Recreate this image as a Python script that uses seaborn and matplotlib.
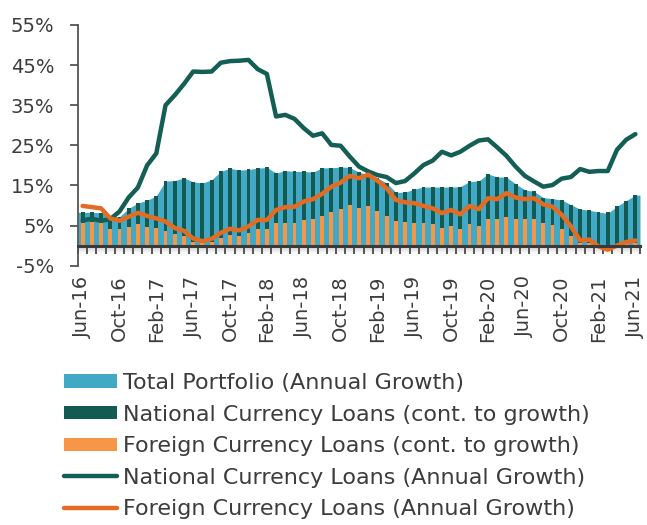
import numpy as np
import pandas as pd
import matplotlib
matplotlib.use("Agg")
import matplotlib.pyplot as plt
import seaborn as sns
from matplotlib.patches import Patch
from matplotlib.lines import Line2D

# Monthly loan-portfolio growth, Jun-2016 .. Jun-2021 (percent)
months = pd.date_range("2016-06-01", "2021-06-01", freq="MS")

total_growth = [
    8.3, 8.3, 8.2, 7.3, 7.2, 9.3, 10.6, 11.3, 12.4, 16.1,
    16.2, 16.9, 15.9, 15.6, 16.4, 18.5, 19.3, 18.8, 19.0, 19.3,
    19.5, 18.1, 18.7, 18.5, 18.5, 18.3, 19.4, 19.4, 19.6, 19.5,
    18.3, 17.7, 16.9, 15.6, 13.3, 13.3, 14.1, 14.6, 14.6, 14.6,
    14.6, 14.7, 16.0, 16.1, 17.9, 17.1, 17.1, 15.4, 13.9, 13.5,
    12.0, 11.7, 11.4, 10.2, 9.1, 8.8, 8.4, 8.0, 9.8, 11.2,
    12.6,
]
fc_contrib = [
    5.6, 6.0, 5.6, 4.2, 4.1, 4.7, 5.3, 4.7, 4.3, 3.7,
    2.8, 2.4, 1.0, 0.6, 0.9, 1.9, 2.7, 2.5, 3.1, 4.1,
    4.1, 5.7, 5.7, 5.7, 6.4, 6.7, 7.4, 8.5, 9.1, 10.1,
    9.5, 9.9, 8.7, 7.5, 6.2, 6.0, 5.7, 5.6, 5.4, 4.3,
    5.0, 4.2, 5.4, 4.9, 6.7, 6.6, 7.2, 6.7, 6.6, 6.7,
    5.7, 5.2, 4.1, 2.4, 0.6, 0.6, -0.1, -0.5, 0.0, 0.4,
    0.6,
]
nc_growth = [
    6.3, 6.7, 6.2, 6.6, 8.5, 12.0, 14.5, 20.0, 23.0, 35.0,
    37.5, 40.3, 43.4, 43.3, 43.4, 45.6, 46.0, 46.1, 46.3, 44.0,
    42.8, 32.2, 32.6, 31.6, 29.3, 27.4, 28.0, 25.1, 24.9, 22.2,
    19.7, 18.5, 17.6, 17.1, 15.6, 16.1, 18.0, 20.1, 21.2, 23.4,
    22.5, 23.4, 24.9, 26.2, 26.5, 24.5, 22.4, 19.7, 17.4, 16.0,
    14.7, 15.1, 16.7, 17.1, 19.1, 18.4, 18.6, 18.6, 23.9, 26.4,
    27.8,
]
fc_growth = [
    9.9, 9.6, 9.3, 6.8, 6.2, 7.2, 8.2, 7.4, 6.8, 6.0,
    4.4, 3.7, 1.8, 1.1, 1.7, 3.2, 4.2, 3.8, 4.8, 6.4,
    6.4, 8.9, 9.6, 9.7, 11.0, 11.6, 12.9, 14.7, 15.7, 17.4,
    16.8, 17.7, 16.2, 14.3, 11.4, 10.8, 10.6, 9.9, 9.3, 8.1,
    8.9, 7.8, 9.9, 9.1, 11.8, 11.6, 13.1, 12.0, 11.6, 11.8,
    10.3, 9.7, 7.7, 4.8, 1.3, 1.5, -0.2, -1.0, 0.0, 0.9,
    1.3,
]
tick_labels = ["Jun-16", "Oct-16", "Feb-17", "Jun-17", "Oct-17", "Feb-18",
               "Jun-18", "Oct-18", "Feb-19", "Jun-19", "Oct-19", "Feb-20",
               "Jun-20", "Oct-20", "Feb-21", "Jun-21"]
y_ticks = [-5, 5, 15, 25, 35, 45, 55]

df = pd.DataFrame({
    "month": months,
    "total": total_growth,
    "fc_contrib": fc_contrib,
    "nc_growth": nc_growth,
    "fc_growth": fc_growth,
})
df["pos"] = np.arange(len(df))
df["nc_contrib"] = df["total"] - df["fc_contrib"]
df["nc_base"] = df["fc_contrib"].clip(lower=0)

C_TOTAL = "#41A9C6"
C_NC_BAR = "#135A53"
C_FC_BAR = "#F79646"
C_NC_LINE = "#135E55"
C_FC_LINE = "#E46C22"
C_TEXT = "#3C3C3C"
C_AXIS = "#555555"

sns.set_theme(style="white")
plt.rcParams["font.family"] = ["DejaVu Sans"]

fig = plt.figure(figsize=(6.47, 5.25), dpi=100)
ax = fig.add_axes([78 / 647, 1 - 265.7 / 525, (640 - 78) / 647, (265.7 - 25) / 525])

# total portfolio as a filled area spanning each month's slot
x_area = np.r_[df["pos"].iloc[0] - 0.5, df["pos"], df["pos"].iloc[-1] + 0.5]
y_area = np.r_[df["total"].iloc[0], df["total"], df["total"].iloc[-1]]
ax.fill_between(x_area, 0, y_area, color=C_TOTAL, linewidth=0, zorder=1)

# stacked contributions
sns.barplot(data=df, x="pos", y="fc_contrib", native_scale=True, width=0.42,
            color=C_FC_BAR, saturation=1, errorbar=None, ax=ax, zorder=2,
            linewidth=0)
sns.barplot(data=df, x="pos", y="nc_contrib", bottom=df["nc_base"].to_numpy(),
            native_scale=True, width=0.42, color=C_NC_BAR, saturation=1,
            errorbar=None, ax=ax, zorder=2, linewidth=0)

# annual growth lines
sns.lineplot(data=df, x="pos", y="nc_growth", color=C_NC_LINE, linewidth=3.2,
             ax=ax, zorder=4, solid_capstyle="round")
sns.lineplot(data=df, x="pos", y="fc_growth", color=C_FC_LINE, linewidth=3.2,
             ax=ax, zorder=4, solid_capstyle="round")

ax.set_xlabel("")
ax.set_ylabel("")

# y axis
ax.set_yticks(y_ticks)
ax.set_yticklabels([f"{v}%" for v in y_ticks])
ax.tick_params(axis="y", direction="out", length=6, width=1.3, color=C_AXIS,
               labelsize=14, labelcolor=C_TEXT, pad=11, left=True)
ax.spines["left"].set_color(C_AXIS)
ax.spines["left"].set_linewidth(1.3)
ax.spines["top"].set_visible(False)
ax.spines["right"].set_visible(False)

# horizontal axis line at zero with a tick between every month
ax.spines["bottom"].set_position(("data", 0))
ax.spines["bottom"].set_color("#3A3A3A")
ax.spines["bottom"].set_linewidth(2.2)
ax.spines["bottom"].set_zorder(5)
ax.set_xticks(np.arange(-0.5, len(df), 1.0))
ax.set_xticklabels([])
ax.tick_params(axis="x", direction="out", length=5.5, width=1.2,
               color="#3A3A3A", bottom=True)

# soft shadow under the zero line
shade = np.linspace(0.78, 1.0, 32).reshape(-1, 1)
ax.imshow(shade, cmap="gray", vmin=0, vmax=1, aspect="auto",
          extent=(-0.5, len(df) - 0.5, -2.2, 0), zorder=0.5,
          interpolation="bilinear")
ax.set_xlim(-0.5, len(df) - 0.5)
ax.set_ylim(y_ticks[0], y_ticks[-1])

# month labels sit below the plotting area
sec = ax.secondary_xaxis("bottom")
sec.set_xticks(df["pos"].iloc[::4].to_numpy())
sec.set_xticklabels(tick_labels, rotation=90, fontsize=14, color=C_TEXT)
sec.tick_params(axis="x", length=0, pad=7)
sec.spines["bottom"].set_visible(False)

handles = [
    Patch(facecolor=C_TOTAL, edgecolor="none"),
    Patch(facecolor=C_NC_BAR, edgecolor="none"),
    Patch(facecolor=C_FC_BAR, edgecolor="none"),
    Line2D([], [], color=C_NC_LINE, linewidth=3.2, solid_capstyle="round"),
    Line2D([], [], color=C_FC_LINE, linewidth=3.2, solid_capstyle="round"),
]
labels = [
    "Total Portfolio (Annual Growth)",
    "National Currency Loans (cont. to growth)",
    "Foreign Currency Loans (cont. to growth)",
    "National Currency Loans (Annual Growth)",
    "Foreign Currency Loans (Annual Growth)",
]
fig.legend(handles, labels, loc="upper left", bbox_to_anchor=(64 / 647, 1 - 373 / 525),
           frameon=False, fontsize=16, labelcolor=C_TEXT, borderpad=0,
           borderaxespad=0, handlelength=2.4, handleheight=0.55,
           handletextpad=0.25, labelspacing=0.52)

fig.savefig("out.png", dpi=100)
